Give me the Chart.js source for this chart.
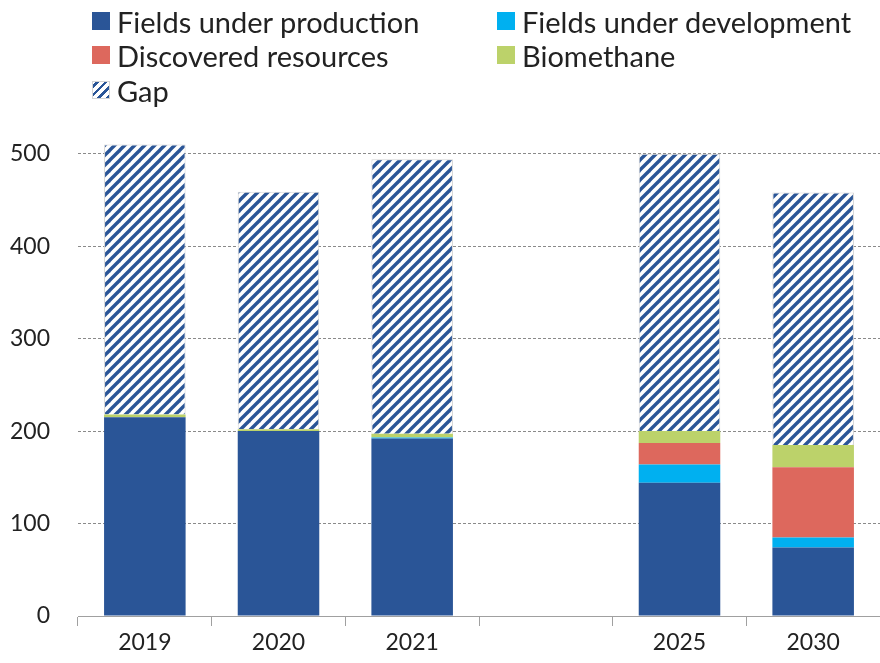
<!DOCTYPE html>
<html>
<head>
<meta charset="utf-8">
<script src="https://cdn.jsdelivr.net/npm/chart.js@4"></script>
<style>
  html, body { margin: 0; padding: 0; background: #fff; }
  #wrap { position: relative; width: 880px; height: 663px; }
  #gasChart { position: absolute; left: 0; top: 0; }
  #legend { position: absolute; left: 0; top: 0; width: 880px; height: 110px;
    font-family: Lato, "Open Sans", sans-serif; font-size: 29px; color: #222; }
  .item { position: absolute; display: flex; align-items: center; white-space: nowrap; }
  .box { width: 18px; height: 18px; margin-right: 7px; }
</style>
</head>
<body>
<div id="wrap">
  <canvas id="gasChart" width="880" height="663"></canvas>
  <div id="legend"></div>
</div>
<script>
// categories (empty slot between 2021 and 2025)
const years = ['2019', '2020', '2021', '', '2025', '2030'];

// values
const fieldsProduction = [215, 200, 192, null, 144, 74];
const fieldsDevelopment = [0, 0, 1, null, 20, 11];
const discovered = [0, 0, 0, null, 23, 76];
const biomethane = [3, 2, 4, null, 13, 24];
const gap = [292, 257, 297, null, 300, 273];

const yTicks = [0, 100, 200, 300, 400, 500];

// diagonal hatch for the gap
const makeHatch = () => {
  const c = document.createElement('canvas');
  c.width = 10;
  c.height = 10;
  const g = c.getContext('2d');
  g.fillStyle = '#fff';
  g.fillRect(0, 0, 10, 10);
  g.strokeStyle = '#2a5597';
  g.lineWidth = 3.4;
  [[-5, 5, 5, -5], [0, 10, 10, 0], [5, 15, 15, 5]].forEach(([x1, y1, x2, y2]) => {
    g.beginPath();
    g.moveTo(x1, y1);
    g.lineTo(x2, y2);
    g.stroke();
  });
  return g.createPattern(c, 'repeat');
};

const ctx = document.getElementById('gasChart').getContext('2d');
const tickFont = { family: 'Lato, "Open Sans", sans-serif', size: 23 };

const chart = new Chart(ctx, {
  type: 'bar',
  data: {
    labels: years,
    datasets: [
      { label: 'Fields under production', data: fieldsProduction, backgroundColor: '#2a5597' },
      { label: 'Fields under development', data: fieldsDevelopment, backgroundColor: '#00b0f0' },
      { label: 'Discovered resources', data: discovered, backgroundColor: '#dd685d' },
      { label: 'Biomethane', data: biomethane, backgroundColor: '#bcd26a' },
      { label: 'Gap', data: gap, backgroundColor: makeHatch(), borderColor: '#d4d4d4', borderWidth: 1 },
    ],
  },
  options: {
    responsive: false,
    animation: false,
    // plot runs a little past the right edge in the original
    layout: { padding: { top: 126, right: -5, left: 0, bottom: 0 } },
    datasets: { bar: { barPercentage: 0.61, categoryPercentage: 1 } },
    plugins: { legend: { display: false }, tooltip: { enabled: false } },
    scales: {
      x: {
        stacked: true,
        afterFit: (axis) => { axis.height = 47; },
        grid: { drawOnChartArea: false, drawTicks: true, tickLength: 10, offset: true, color: '#a0a0a0' },
        border: { display: true, color: '#a0a0a0', width: 1 },
        ticks: { font: tickFont, color: '#222', padding: 3 },
      },
      y: {
        stacked: true,
        min: 0,
        max: 530,
        afterBuildTicks: (axis) => { axis.ticks = yTicks.map(v => ({ value: v })); },
        afterFit: (axis) => { axis.width = 78; },
        grid: { color: '#8a8a8a', drawTicks: false, lineWidth: 1 },
        border: { display: false, dash: [3, 2] },
        ticks: { font: tickFont, color: '#222', padding: 28 },
      },
    },
  },
});

// two-column legend like the original
const legendSpots = [[92, 21], [497, 21], [92, 55], [497, 55], [92, 90]];
const legendEl = document.getElementById('legend');
chart.data.datasets.forEach((ds, i) => {
  const item = document.createElement('div');
  item.className = 'item';
  item.style.left = legendSpots[i][0] + 'px';
  item.style.top = (legendSpots[i][1] - 16) + 'px';
  item.style.height = '32px';
  const box = document.createElement('span');
  box.className = 'box';
  if (ds.label === 'Gap') {
    box.style.background = 'repeating-linear-gradient(135deg, #fff 0 2px, #2a5597 2px 4.5px, #fff 4.5px 6px)';
    box.style.border = '1px solid #d4d4d4';
    box.style.boxSizing = 'border-box';
  } else {
    box.style.background = ds.backgroundColor;
  }
  const txt = document.createElement('span');
  txt.textContent = ds.label;
  item.appendChild(box);
  item.appendChild(txt);
  legendEl.appendChild(item);
});
</script>
</body>
</html>
